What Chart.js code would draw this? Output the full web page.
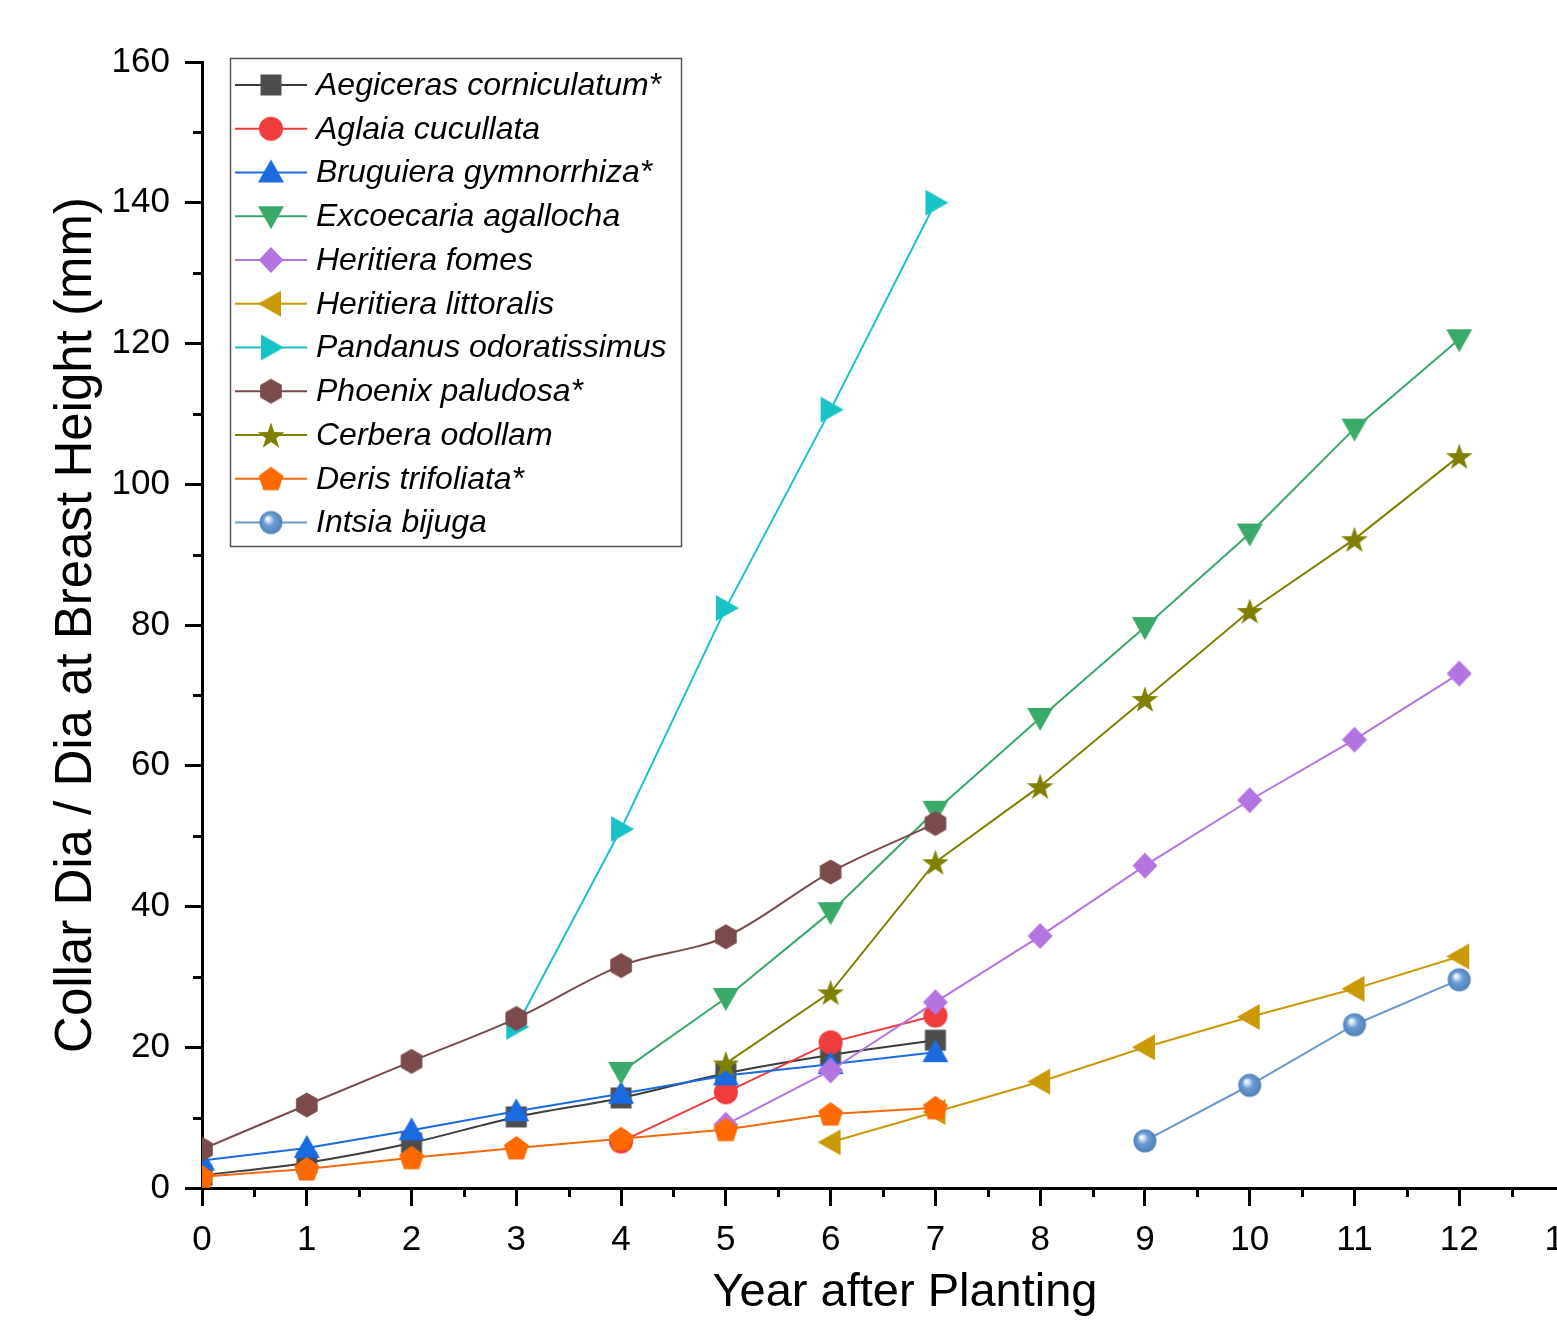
<!DOCTYPE html>
<html>
<head>
<meta charset="utf-8">
<script src="https://cdn.jsdelivr.net/npm/chart.js@4.4.1/dist/chart.umd.min.js"></script>
<style>
  html, body { margin: 0; padding: 0; background: #fff; overflow: hidden; width: 1557px; height: 1330px; }
  #wrap { position: absolute; left: 0; top: 0; width: 1660px; height: 1330px; }
</style>
</head>
<body>
<div id="wrap"><canvas id="c" width="1660" height="1330"></canvas></div>
<script>
// ---------- DATA ----------
const years = [0, 1, 2, 3, 4, 5, 6, 7, 8, 9, 10, 11, 12];
const xTickLabels = [0, 1, 2, 3, 4, 5, 6, 7, 8, 9, 10, 11, 12, 13];
const yTickValues = [0, 20, 40, 60, 80, 100, 120, 140, 160];

const seriesNames = [
  'Aegiceras corniculatum*', 'Aglaia cucullata', 'Bruguiera gymnorrhiza*',
  'Excoecaria agallocha', 'Heritiera fomes', 'Heritiera littoralis',
  'Pandanus odoratissimus', 'Phoenix paludosa*', 'Cerbera odollam',
  'Deris trifoliata*', 'Intsia bijuga'
];

const aegiceras   = [1.8, 3.6, 6.4, 10.1, 12.8, 16.3, 18.9, 21.0, null, null, null, null, null];
const aglaia      = [null, null, null, null, 6.6, 13.6, 20.7, 24.5, null, null, null, null, null];
const bruguiera   = [3.9, 5.7, 8.2, 10.9, 13.4, 16.0, 17.6, 19.3, null, null, null, null, null];
const excoecaria  = [null, null, null, null, 16.5, 27.0, 39.2, 53.6, 66.8, 79.7, 93.0, 107.9, 120.6];
const hFomes      = [null, null, null, null, null, 9.0, 16.7, 26.4, 35.8, 45.8, 55.1, 63.7, 73.1];
const hLittoralis = [null, null, null, null, null, null, 6.5, 10.8, 15.1, 20.0, 24.3, 28.3, 32.9];
const pandanus    = [null, null, null, 22.9, 51.0, 82.4, 110.6, 140.0, null, null, null, null, null];
const phoenix     = [5.5, 11.8, 18.0, 24.1, 31.6, 35.7, 44.9, 51.8, null, null, null, null, null];
const cerbera     = [null, null, null, null, null, 17.7, 27.8, 46.3, 57.1, 69.5, 82.0, 92.2, 104.0];
const deris       = [1.6, 2.7, 4.3, 5.7, 7.0, 8.3, 10.5, 11.4, null, null, null, null, null];
const intsia      = [null, null, null, null, null, null, null, null, null, 6.7, 14.6, 23.2, 29.6];

// ---------- STYLE ----------
const FONT = "'Liberation Sans', Arial, sans-serif";
Chart.defaults.font.family = FONT;
Chart.defaults.color = '#000';

function marker(shape, color) {
  const S = 34, c = document.createElement('canvas');
  c.width = S; c.height = S;
  const g = c.getContext('2d');
  const cx = S / 2, cy = S / 2;
  g.fillStyle = color;
  g.beginPath();
  const poly = (pts) => { pts.forEach((p, i) => i ? g.lineTo(cx + p[0], cy + p[1]) : g.moveTo(cx + p[0], cy + p[1])); g.closePath(); };
  if (shape === 'square') { g.rect(cx - 10.5, cy - 10.5, 21, 21); }
  else if (shape === 'circle') { g.arc(cx, cy, 12, 0, Math.PI * 2); }
  else if (shape === 'up') { poly([[0, -13], [13, 10], [-13, 10]]); }
  else if (shape === 'down') { poly([[0, 13], [13, -10], [-13, -10]]); }
  else if (shape === 'left') { poly([[-13, 0], [10, -13], [10, 13]]); }
  else if (shape === 'right') { poly([[13, 0], [-10, -13], [-10, 13]]); }
  else if (shape === 'diamond') { poly([[0, -13], [12.5, 0], [0, 13], [-12.5, 0]]); }
  else if (shape === 'hexagon') {
    const p = []; for (let i = 0; i < 6; i++) { const a = Math.PI / 6 + i * Math.PI / 3; p.push([12.5 * Math.cos(a), 12.5 * Math.sin(a)]); }
    poly(p);
  } else if (shape === 'pentagon') {
    const p = []; for (let i = 0; i < 5; i++) { const a = -Math.PI / 2 + i * 2 * Math.PI / 5; p.push([13 * Math.cos(a), 13 * Math.sin(a) + 1]); }
    poly(p);
  } else if (shape === 'star') {
    const p = []; for (let i = 0; i < 10; i++) { const a = -Math.PI / 2 + i * Math.PI / 5; const r = i % 2 ? 5.5 : 14; p.push([r * Math.cos(a), r * Math.sin(a) + 1.5]); }
    poly(p);
  } else if (shape === 'ball') {
    const gr = g.createRadialGradient(cx - 3.5, cy - 4, 0.5, cx, cy, 12);
    gr.addColorStop(0, '#ffffff');
    gr.addColorStop(0.18, '#c8dcf2');
    gr.addColorStop(0.45, color);
    gr.addColorStop(1, '#4f7fb8');
    g.fillStyle = gr;
    g.arc(cx, cy, 11.5, 0, Math.PI * 2);
  }
  g.fill();
  return c;
}

const styles = [
  { color: '#3c3c3c', mcolor: '#4d4d4d', shape: 'square', tension: 0.3 },
  { color: '#ee3b3b', mcolor: '#ef3d3d', shape: 'circle', tension: 0 },
  { color: '#1b6be0', mcolor: '#1b6be0', shape: 'up', tension: 0 },
  { color: '#38a86a', mcolor: '#3aaa6a', shape: 'down', tension: 0 },
  { color: '#b374e2', mcolor: '#b374e2', shape: 'diamond', tension: 0 },
  { color: '#c99a06', mcolor: '#c99a06', shape: 'left', tension: 0 },
  { color: '#17c3c6', mcolor: '#17c3c6', shape: 'right', tension: 0 },
  { color: '#7b4a4a', mcolor: '#7b4a4a', shape: 'hexagon', tension: 0.3 },
  { color: '#808000', mcolor: '#808000', shape: 'star', tension: 0 },
  { color: '#f26a10', mcolor: '#ff6a00', shape: 'pentagon', tension: 0 },
  { color: '#6a98cc', mcolor: '#6a9bd1', shape: 'ball', tension: 0 }
];

const allSeries = [aegiceras, aglaia, bruguiera, excoecaria, hFomes, hLittoralis, pandanus, phoenix, cerbera, deris, intsia];

const datasets = allSeries.map((vals, i) => {
  const st = styles[i];
  const img = marker(st.shape, st.mcolor);
  return {
    label: seriesNames[i],
    data: years.map((x, j) => ({ x: x, y: vals[j] })).filter(p => p.y !== null),
    borderColor: st.color,
    backgroundColor: st.mcolor,
    borderWidth: 2,
    pointStyle: img,
    pointRadius: 12,
    pointHoverRadius: 12,
    tension: st.tension,
    cubicInterpolationMode: st.tension ? 'monotone' : 'default',
    order: allSeries.length - i,
    _img: img
  };
});

const minorTicks = {
  id: 'minorTicks',
  afterDraw(chart) {
    const { ctx, chartArea: ca, scales: { x, y } } = chart;
    ctx.save();
    ctx.strokeStyle = '#000';
    ctx.lineWidth = 3;
    ctx.beginPath();
    for (let v = 10; v < 160; v += 20) {
      const py = Math.round(y.getPixelForValue(v)) + 0.5;
      ctx.moveTo(ca.left - 9, py); ctx.lineTo(ca.left, py);
    }
    for (let v = 0.5; v <= x.max; v += 1) {
      const px = Math.round(x.getPixelForValue(v)) + 0.5;
      ctx.moveTo(px, ca.bottom); ctx.lineTo(px, ca.bottom + 9);
    }
    ctx.stroke();
    ctx.restore();
  }
};

const boxLegend = {
  id: 'boxLegend',
  afterDraw(chart) {
    const ctx = chart.ctx;
    const L = 230, T = 58, R = 681, B = 546;
    ctx.save();
    ctx.fillStyle = '#fff';
    ctx.fillRect(L, T, R - L, B - T);
    ctx.strokeStyle = '#555';
    ctx.lineWidth = 1.5;
    ctx.strokeRect(L + 0.5, T + 0.5, R - L, B - T);
    ctx.font = "italic 32px " + FONT;
    ctx.textBaseline = 'middle';
    ctx.textAlign = 'left';
    chart.data.datasets.forEach((ds, i) => {
      const yy = 85 + i * 43.75;
      ctx.strokeStyle = ds.borderColor;
      ctx.lineWidth = 2;
      ctx.beginPath(); ctx.moveTo(235, yy); ctx.lineTo(307, yy); ctx.stroke();
      const im = ds._img;
      ctx.drawImage(im, 271 - im.width / 2, yy - im.height / 2);
      ctx.fillStyle = '#000';
      ctx.fillText(ds.label, 316, yy + 1);
    });
    ctx.restore();
  }
};

new Chart(document.getElementById('c'), {
  type: 'line',
  data: { datasets: datasets },
  options: {
    responsive: false,
    animation: false,
    devicePixelRatio: 1,
    layout: { padding: { left: 0, top: 62, right: 52, bottom: 0 } },
    plugins: { legend: { display: false }, tooltip: { enabled: false } },
    scales: {
      x: {
        type: 'linear', position: 'bottom', min: 0, max: 13.42, z: 1,
        afterBuildTicks: (s) => { s.ticks = xTickLabels.map(v => ({ value: v })); },
        afterFit: (s) => { s.height = 142; },
        border: { display: true, color: '#000', width: 3 },
        grid: { drawOnChartArea: false, drawTicks: true, tickLength: 18, tickWidth: 3, tickColor: '#000' },
        ticks: { font: { size: 35 }, color: '#000', padding: 13, maxRotation: 0, autoSkip: false, callback: (v) => String(v) },
        title: { display: true, text: 'Year after Planting', font: { size: 47 }, color: '#000', padding: { top: 9, bottom: 9 } }
      },
      y: {
        type: 'linear', position: 'left', min: 0, max: 160, z: 1,
        afterBuildTicks: (s) => { s.ticks = yTickValues.map(v => ({ value: v })); },
        afterFit: (s) => { s.width = 202; },
        border: { display: true, color: '#000', width: 3 },
        grid: { drawOnChartArea: false, drawTicks: true, tickLength: 17, tickWidth: 3, tickColor: '#000' },
        ticks: { font: { size: 35 }, color: '#000', padding: 15, callback: (v) => String(v) },
        title: { display: true, text: 'Collar Dia / Dia at Breast Height (mm)', font: { size: 51 }, color: '#000', padding: { top: 46, bottom: 46 } }
      }
    }
  },
  plugins: [minorTicks, boxLegend]
});
</script>
</body>
</html>
